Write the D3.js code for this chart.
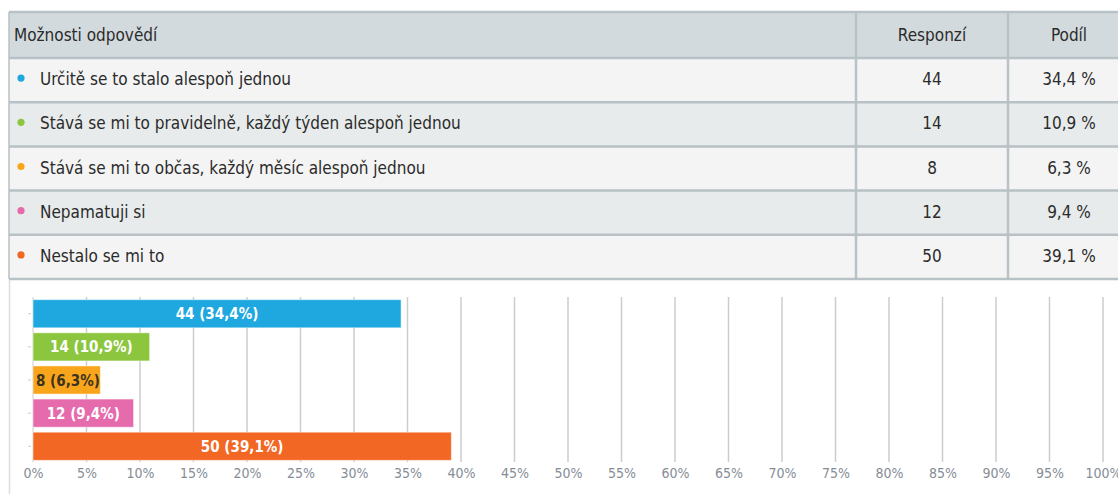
<!DOCTYPE html>
<html lang="cs">
<head>
<meta charset="utf-8">
<title>Možnosti odpovědí</title>
<script src="https://cdn.jsdelivr.net/npm/d3@7"></script>
<style>
  body { margin: 0; background: #fff; }
  svg text { font-family: "DejaVu Sans Condensed", "Liberation Sans Narrow", sans-serif; }
</style>
</head>
<body>
<script>
// data
var categories = [
  "Určitě se to stalo alespoň jednou",
  "Stává se mi to pravidelně, každý týden alespoň jednou",
  "Stává se mi to občas, každý měsíc alespoň jednou",
  "Nepamatuji si",
  "Nestalo se mi to"
];
var responses = [44, 14, 8, 12, 50];
var shares = [34.4, 10.9, 6.3, 9.4, 39.1];
var colors = ["#1fa8e0", "#8cc63f", "#f9a51b", "#e56bad", "#f26724"];
var labelColors = ["#fff", "#fff", "#3a3320", "#fff", "#fff"];
var headers = ["Možnosti odpovědí", "Responzí", "Podíl"];
var xTicks = d3.range(0, 101, 5);

var w = 1118, h = 494;
var fmt = function(v){ return String(v).replace(".", ","); };

var svg = d3.select("body").append("svg").attr("width", w).attr("height", h);

// ---- table ----
var border = "#b7c1c6";
var colX = [9, 856, 1008, 1130];
var rowY = d3.scaleBand().domain(categories).range([58, 279]);
var headTop = 12;
var fs = "17px";

// header
svg.append("rect").attr("x", colX[0]).attr("y", headTop)
  .attr("width", colX[3] - colX[0]).attr("height", 58 - headTop)
  .attr("fill", "#d3dadd");

svg.selectAll("rect.row")
  .data(categories)
  .enter().append("rect")
  .attr("class", "row")
  .attr("x", colX[0])
  .attr("y", function(d){ return rowY(d); })
  .attr("width", colX[3] - colX[0])
  .attr("height", rowY.bandwidth())
  .attr("fill", function(d, i){ return i % 2 ? "#e8ebec" : "#f4f4f4"; });

// horizontal lines
var hLines = [headTop, 58].concat(categories.map(function(d){ return rowY(d) + rowY.bandwidth(); }));
svg.selectAll("line.h")
  .data(hLines)
  .enter().append("line")
  .attr("x1", colX[0]).attr("x2", colX[3])
  .attr("y1", function(d){ return d; }).attr("y2", function(d){ return d; })
  .attr("stroke", border).attr("stroke-width", 2.5);

// vertical lines
svg.selectAll("line.v")
  .data(colX.slice(0, 3))
  .enter().append("line")
  .attr("x1", function(d){ return d; }).attr("x2", function(d){ return d; })
  .attr("y1", headTop).attr("y2", 279)
  .attr("stroke", border).attr("stroke-width", function(d, i){ return i == 0 ? 1.5 : 2.5; });

// header text
svg.append("text").attr("x", 14).attr("y", 36).attr("dominant-baseline", "middle")
  .attr("font-size", fs).attr("fill", "#2b2b2b").text(headers[0]);
svg.append("text").attr("x", (colX[1] + colX[2]) / 2).attr("y", 36).attr("dominant-baseline", "middle")
  .attr("text-anchor", "middle").attr("font-size", fs).attr("fill", "#2b2b2b").text(headers[1]);
svg.append("text").attr("x", 1069).attr("y", 36).attr("dominant-baseline", "middle")
  .attr("text-anchor", "middle").attr("font-size", fs).attr("fill", "#2b2b2b").text(headers[2]);

// bullets
svg.selectAll("circle.dot")
  .data(categories)
  .enter().append("circle")
  .attr("cx", 21)
  .attr("cy", function(d){ return rowY(d) + rowY.bandwidth() / 2 - 2; })
  .attr("r", 3.6)
  .attr("fill", function(d, i){ return colors[i]; });

// category text
svg.selectAll("text.cat")
  .data(categories)
  .enter().append("text")
  .attr("class", "cat")
  .attr("x", 40)
  .attr("y", function(d){ return rowY(d) + rowY.bandwidth() / 2; })
  .attr("dominant-baseline", "middle")
  .attr("font-size", fs)
  .attr("fill", "#2b2b2b")
  .text(function(d){ return d; });

svg.selectAll("text.resp")
  .data(responses)
  .enter().append("text")
  .attr("x", (colX[1] + colX[2]) / 2)
  .attr("y", function(d, i){ return rowY(categories[i]) + rowY.bandwidth() / 2; })
  .attr("dominant-baseline", "middle")
  .attr("text-anchor", "middle")
  .attr("font-size", fs)
  .attr("fill", "#2b2b2b")
  .text(function(d){ return d; });

svg.selectAll("text.share")
  .data(shares)
  .enter().append("text")
  .attr("x", 1069)
  .attr("y", function(d, i){ return rowY(categories[i]) + rowY.bandwidth() / 2; })
  .attr("dominant-baseline", "middle")
  .attr("text-anchor", "middle")
  .attr("font-size", fs)
  .attr("fill", "#2b2b2b")
  .text(function(d){ return fmt(d.toFixed(1)) + " %"; });

// ---- bar chart ----
// left border of chart box
svg.append("line").attr("x1", 9.5).attr("x2", 9.5).attr("y1", 280).attr("y2", h)
  .attr("stroke", "#d6dde0").attr("stroke-width", 1.5);

var x = d3.scaleLinear().domain([0, 100]).range([33, 1103]);
var y = d3.scaleBand().domain(categories).range([298, 462]).paddingInner(0.15).paddingOuter(0.05);

// gridlines
svg.selectAll("line.grid")
  .data(xTicks)
  .enter().append("line")
  .attr("x1", function(d){ return x(d); }).attr("x2", function(d){ return x(d); })
  .attr("y1", 297).attr("y2", 462)
  .attr("stroke", "#cccccc").attr("stroke-width", function(d){ return d == 0 ? 1 : 1.5; });

// small ticks on the category axis
svg.selectAll("line.ytick")
  .data(categories)
  .enter().append("line")
  .attr("x1", 28).attr("x2", 31)
  .attr("y1", function(d){ return y(d) + y.bandwidth() / 2; })
  .attr("y2", function(d){ return y(d) + y.bandwidth() / 2; })
  .attr("stroke", "#c8ced3");

// x axis labels
var xAxis = d3.axisBottom(x).tickValues(xTicks).tickSize(0).tickFormat(function(d){ return d + "%"; });
var gx = svg.append("g").attr("transform", "translate(0,465)").call(xAxis);
gx.select(".domain").remove();
gx.selectAll("text")
  .attr("font-size", "14px")
  .attr("fill", "#858d96")
  .style("font-family", "\"DejaVu Sans Condensed\", \"Liberation Sans Narrow\", sans-serif");

// bars
svg.selectAll("rect.bar")
  .data(shares)
  .enter().append("rect")
  .attr("x", x(0))
  .attr("y", function(d, i){ return y(categories[i]); })
  .attr("width", function(d){ return x(d) - x(0); })
  .attr("height", y.bandwidth())
  .attr("fill", function(d, i){ return colors[i]; })
  .attr("stroke", "#ffffff").attr("stroke-opacity", 0.5).attr("stroke-width", 1);

// bar labels
var labels = svg.selectAll("text.blab")
  .data(shares)
  .enter().append("text")
  .attr("y", function(d, i){ return y(categories[i]) + y.bandwidth() / 2 + 1; })
  .attr("dominant-baseline", "middle")
  .attr("font-size", "15px")
  .attr("font-weight", "600")
  .attr("fill", function(d, i){ return labelColors[i]; })
  .text(function(d, i){ return responses[i] + " (" + fmt(d) + "%)"; });

labels.each(function(d){
  var t = d3.select(this);
  var len = this.getComputedTextLength();
  var bw = x(d) - x(0);
  if (len + 10 > bw) {
    t.attr("x", x(0) + 3).attr("text-anchor", "start");
  } else {
    t.attr("x", x(0) + bw / 2).attr("text-anchor", "middle");
  }
});
</script>
</body>
</html>
